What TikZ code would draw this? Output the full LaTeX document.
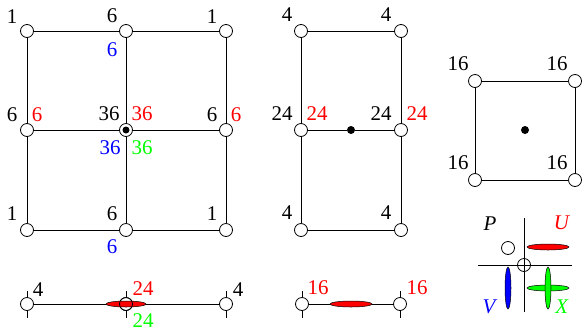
\documentclass[tikz,border=0pt]{standalone}
\usepackage{fontspec}
\setmainfont{Liberation Serif}
\tikzset{
  vtx/.style={circle,draw,fill=white,minimum size=13bp,inner sep=0pt},
  ctr/.style={circle,fill=black,minimum size=7bp,inner sep=0pt},
  lbl/.style={inner sep=0pt,font=\fontsize{21}{24}\selectfont},
  mode/.style={draw=black,line width=0.5bp},
}
\begin{document}
\begin{tikzpicture}[x=1bp,y=-1bp,line width=0.8bp]
  \useasboundingbox (0,0) rectangle (582,333);
  % 3x3 grid
  \foreach \c/\x in {a/27,b/126,c/226}
    \foreach \r/\y in {1/31,2/130,3/230}
      \node[vtx] (\c\r) at (\x,\y) {};
  \node[ctr] (b2dot) at (b2) {};
  \draw (a1) -- (b1) -- (c1) (a2) -- (b2) -- (c2) (a3) -- (b3) -- (c3);
  \draw (a1) -- (a2) -- (a3) (b1) -- (b2) -- (b3) (c1) -- (c2) -- (c3);
  \node[lbl] (la1) at (12,17) {1};
  \node[lbl] (lb1) at (112,16) {6};
  \node[lbl] (lc1) at (212,17) {1};
  \node[lbl,blue] (lb1v) at (112,50) {6};
  \node[lbl] (la2) at (12,115) {6};
  \node[lbl,red] (la2u) at (37,115) {6};
  \node[lbl] (lb2) at (109,114) {36};
  \node[lbl,red] (lb2u) at (142,114) {36};
  \node[lbl,blue] (lb2v) at (110,148) {36};
  \node[lbl,green] (lb2x) at (142,148) {36};
  \node[lbl] (lc2) at (212,115) {6};
  \node[lbl,red] (lc2u) at (236,115) {6};
  \node[lbl] (la3) at (12,214) {1};
  \node[lbl] (lb3) at (112,214) {6};
  \node[lbl] (lc3) at (212,214) {1};
  \node[lbl,blue] (lb3v) at (112,247) {6};
  % 2x3 grid
  \foreach \c/\x in {d/301,e/401}
    \foreach \r/\y in {1/31,2/130,3/230}
      \node[vtx] (\c\r) at (\x,\y) {};
  \node[ctr,minimum size=8bp] (mdot) at (351,130) {};
  \draw (d1) -- (e1) (d2) -- (mdot) -- (e2) (d3) -- (e3);
  \draw (d1) -- (d2) -- (d3) (e1) -- (e2) -- (e3);
  \node[lbl] (ld1) at (287,15) {4};
  \node[lbl] (le1) at (386,15) {4};
  \node[lbl] (ld2) at (282,114) {24};
  \node[lbl,red] (ld2u) at (317,114) {24};
  \node[lbl] (le2) at (381,114) {24};
  \node[lbl,red] (le2u) at (417,114) {24};
  \node[lbl] (ld3) at (287,213) {4};
  \node[lbl] (le3) at (386,213) {4};
  % 2x2 square
  \node[vtx] (f1) at (475,81) {};
  \node[vtx] (g1) at (575,81) {};
  \node[vtx] (f2) at (475,180) {};
  \node[vtx] (g2) at (575,180) {};
  \node[ctr,minimum size=8bp] (sdot) at (525,130) {};
  \draw (f1) -- (g1) -- (g2) -- (f2) -- (f1);
  \node[lbl] (lf1) at (458,64) {16};
  \node[lbl] (lg1) at (557,64) {16};
  \node[lbl] (lf2) at (458,163) {16};
  \node[lbl] (lg2) at (557,163) {16};
  % 1d element, 3 nodes
  \foreach \x in {27,126,226} \draw (\x,291) -- (\x,318);
  \node[vtx] (h1) at (27,304) {};
  \node[vtx] (h2) at (126,304) {};
  \node[vtx] (h3) at (226,304) {};
  \draw (h1) -- (h2) -- (h3);
  \draw[mode,fill=red] (h2) ellipse[x radius=20,y radius=3];
  \draw (h2) circle[radius=6.5];
  \node[lbl] (lh1) at (38,290) {4};
  \node[lbl] (lh3) at (238,290) {4};
  \node[lbl,red] (lh2u) at (143,289) {24};
  \node[lbl,green] (lh2x) at (143,321) {24};
  % 1d element, 2 nodes
  \foreach \x in {302,400} \draw (\x,291) -- (\x,318);
  \node[vtx] (k1) at (302,304) {};
  \node[vtx] (k2) at (400,304) {};
  \draw (k1) -- (k2);
  \draw[mode,fill=red] (351,304) ellipse[x radius=21,y radius=3];
  \node[lbl,red] (lk1) at (318,288) {16};
  \node[lbl,red] (lk2) at (417,288) {16};
  % legend
  \draw (524,218) -- (524,312);
  \draw (478,265) -- (572,265);
  \draw (524,265) circle[radius=6.5];
  \node[vtx] (p) at (508,248) {};
  \draw[mode,fill=red] (548,247) ellipse[x radius=21,y radius=3];
  \draw[mode,fill=blue] (508,288) ellipse[x radius=3,y radius=21];
  \draw[mode,fill=green] (548,288) ellipse[x radius=21,y radius=3];
  \draw[mode,fill=green] (548,288) ellipse[x radius=3,y radius=21];
  \node[lbl] (lp) at (490,224) {\textit{P}};
  \node[lbl,red] (lu) at (562,223) {\textit{U}};
  \node[lbl,blue] (lv) at (490,307) {\textit{V}};
  \node[lbl,green] (lx) at (562,307) {\textit{X}};
\end{tikzpicture}
\end{document}
